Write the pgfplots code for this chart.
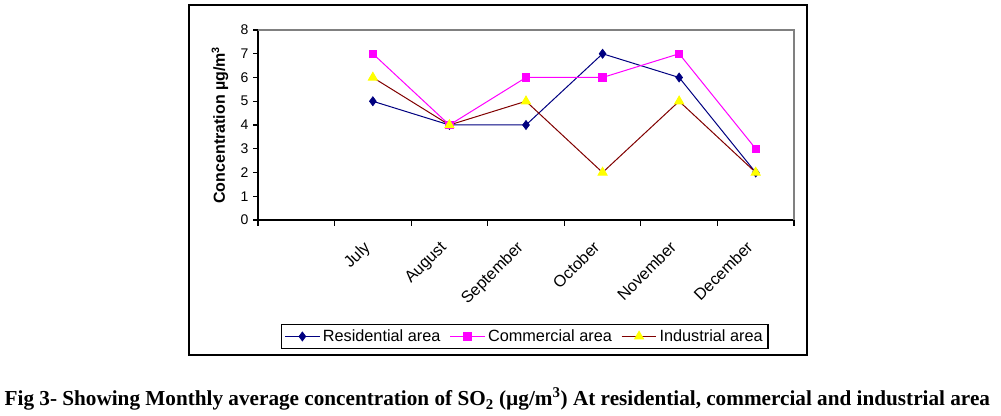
\documentclass[border=0pt]{standalone}
\usepackage{pgfplots}
\pgfplotsset{compat=1.18}
\usepackage{fontspec}
\usepackage{graphicx}
\setmainfont{Liberation Sans}
\newfontfamily\capfont{Liberation Serif}
\definecolor{resid}{RGB}{0,0,128}
\definecolor{comm}{RGB}{255,0,255}
\definecolor{indline}{RGB}{128,0,0}
\definecolor{indmark}{RGB}{255,255,0}
\begin{document}
\begin{tikzpicture}
% page = 1001 x 416 px, 1 px = 0.75pt
\useasboundingbox (0,0) rectangle (750.75pt,312pt);
\draw[black, line width=0.9pt] (141.75pt,45.75pt) rectangle (605.25pt,308.25pt);
\begin{axis}[
  at={(193.5pt,147pt)}, anchor=south west,
  scale only axis,
  width=402pt, height=142.5pt,
  xmin=0, xmax=7, ymin=0, ymax=8,
  axis x line*=bottom, axis y line*=left,
  axis line style={black, line width=0.8pt},
  xtick={1.5,2.5,3.5,4.5,5.5,6.5},
  xticklabels={July,August,September,October,November,December},
  minor xtick={0,1,2,3,4,5,6,7},
  ytick={0,1,2,3,4,5,6,7,8},
  tick align=outside,
  major tick length=3.75pt,
  minor tick length=4.5pt,
  major x tick style={draw=none},
  minor x tick style={black, line width=0.8pt},
  major y tick style={black, line width=0.8pt},
  /pgf/number format/assume math mode=true,
  yticklabel style={font=\fontsize{10.5}{12}\selectfont},
  xticklabel style={font=\fontsize{12.2}{14}\selectfont, rotate=45, anchor=north east, yshift=1pt, xshift=-10pt},
  ylabel={\textbf{Concentration µg/m\textsuperscript{3}}},
  ylabel style={font=\fontsize{12}{14}\selectfont, at={(axis description cs:-0.071,0.5)}, anchor=center},
  legend columns=3,
  legend style={at={(axis description cs:0.498,-0.613)}, anchor=center, draw=black, line width=0.8pt,
    font=\fontsize{12.2}{14}\selectfont, inner sep=2pt,
    /tikz/every even column/.append style={column sep=5pt}},
  legend image code/.code={\draw[mark repeat=2,mark phase=2] plot coordinates {(0pt,0pt)(13pt,0pt)(26pt,0pt)};},
  clip=false,
]
\draw[gray, line width=0.9pt] (rel axis cs:0,1) -- (rel axis cs:1,1) -- (rel axis cs:1,0);
\addplot[resid, line width=0.75pt, mark=diamond*, mark size=3.4pt, mark options={fill=resid, line width=0.5pt}]
  coordinates {(1.5,5) (2.5,4) (3.5,4) (4.5,7) (5.5,6) (6.5,2)};
\addplot[comm, line width=0.75pt, mark=square*, mark size=2.7pt, mark options={fill=comm}]
  coordinates {(1.5,7) (2.5,4) (3.5,6) (4.5,6) (5.5,7) (6.5,3)};
\addplot[indline, line width=0.75pt, mark=triangle*, mark size=3.8pt, mark options={fill=indmark, draw=indmark}]
  coordinates {(1.5,6) (2.5,4) (3.5,5) (4.5,2) (5.5,5) (6.5,2)};
\legend{Residential area, Commercial area, Industrial area}
\end{axis}
\node[anchor=base] at (373pt,7.5pt) {\resizebox{739pt}{\height}{\capfont\bfseries\fontsize{16}{19}\selectfont Fig 3- Showing Monthly average concentration of SO\textsubscript{2} (µg/m\textsuperscript{3}) At residential, commercial and industrial area}};
\end{tikzpicture}
\end{document}
